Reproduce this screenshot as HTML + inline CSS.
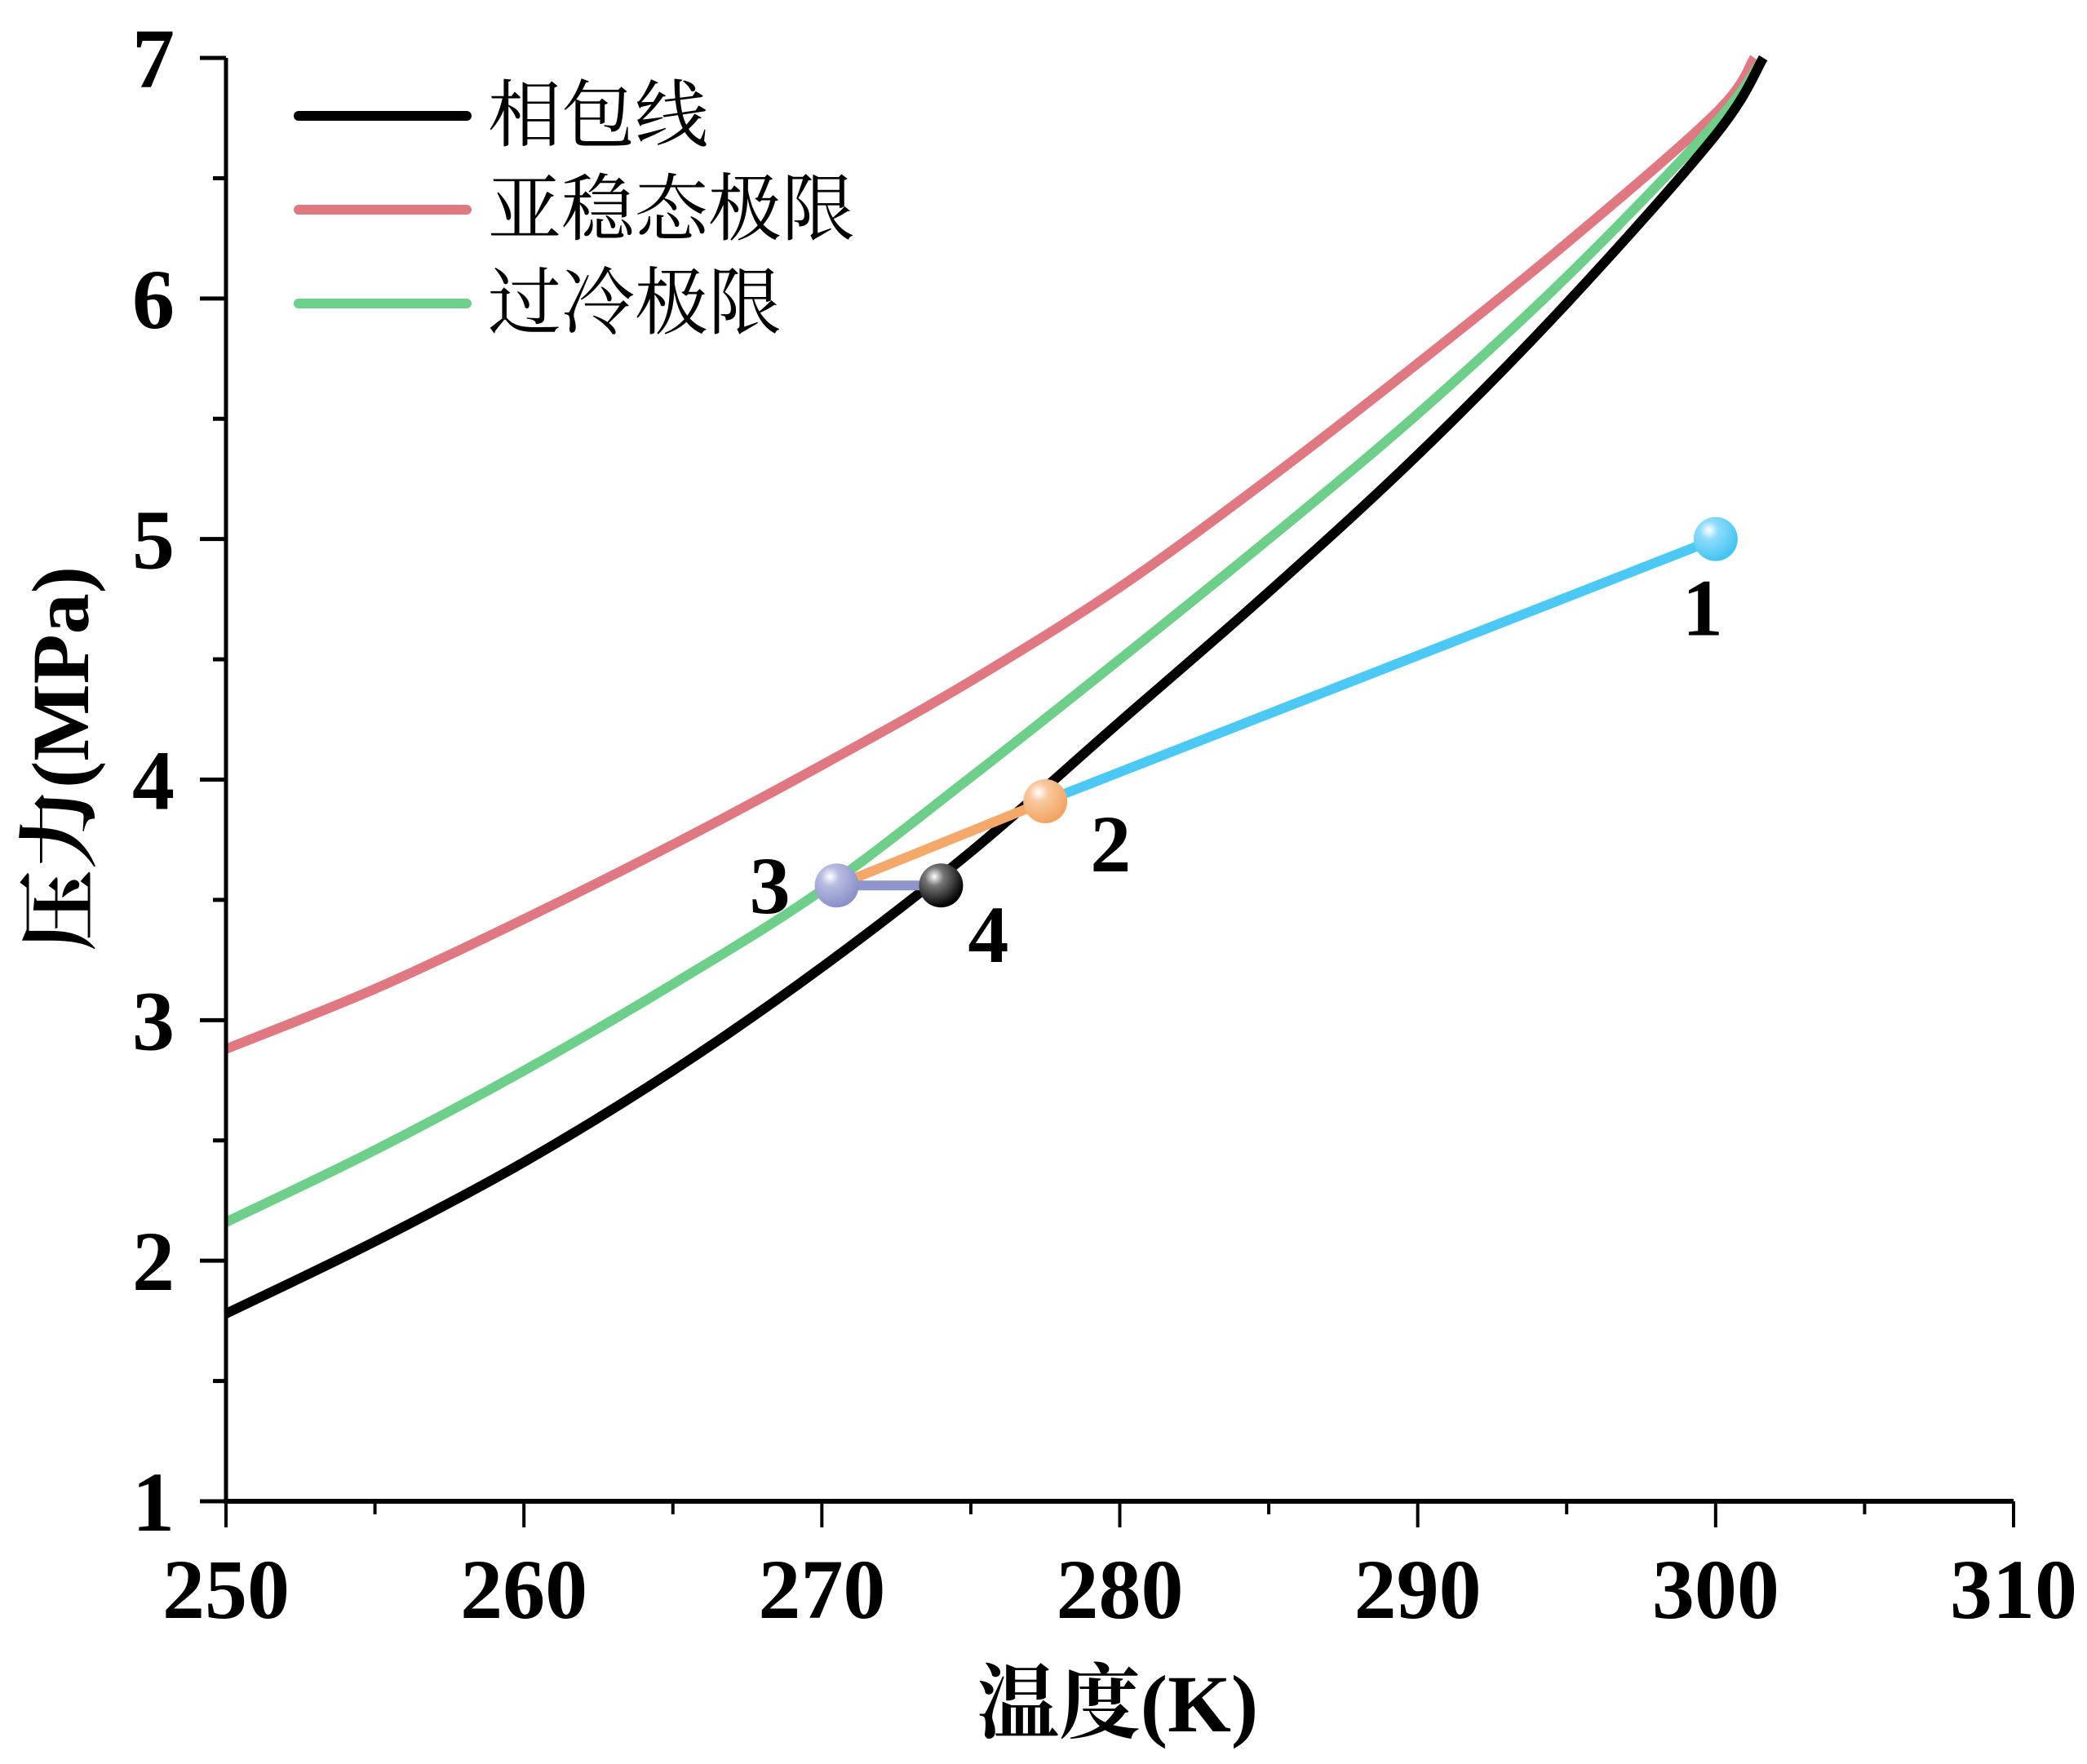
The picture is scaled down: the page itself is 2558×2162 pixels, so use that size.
<!DOCTYPE html>
<html><head><meta charset="utf-8"><style>
html,body{margin:0;padding:0;background:#fff;}
svg{display:block;}
text{font-family:"Liberation Serif","Noto Serif CJK SC",serif;}
</style></head><body>
<svg id="chart" width="2558" height="2162" viewBox="0 0 2558 2162" xmlns="http://www.w3.org/2000/svg">
<defs>
<radialGradient id="gCyan" cx="0.35" cy="0.3" r="0.7"><stop offset="0" stop-color="#ffffff"/><stop offset="0.3" stop-color="#8fdcfa"/><stop offset="1" stop-color="#44c4f2"/></radialGradient>
<radialGradient id="gOrange" cx="0.35" cy="0.3" r="0.7"><stop offset="0" stop-color="#ffffff"/><stop offset="0.3" stop-color="#f8c9a0"/><stop offset="1" stop-color="#f2a462"/></radialGradient>
<radialGradient id="gPurple" cx="0.35" cy="0.3" r="0.7"><stop offset="0" stop-color="#ffffff"/><stop offset="0.3" stop-color="#b8bce0"/><stop offset="1" stop-color="#8a90c8"/></radialGradient>
<radialGradient id="gBlack" cx="0.35" cy="0.3" r="0.7"><stop offset="0" stop-color="#ffffff"/><stop offset="0.3" stop-color="#777"/><stop offset="1" stop-color="#000"/></radialGradient>
</defs>
<g id="plot"></g>
</svg>
<script>
const xTicks=[250,260,270,280,290,300,310];
const yTicks=[1,2,3,4,5,6,7];
const tempsEnvelope=[250,255,260,265,270,275,280,285,290,295,300,301.6];
const presEnvelope=[1.78,2.08,2.41,2.79,3.22,3.70,4.24,4.78,5.35,5.98,6.68,7.0];
const tempsMeta=[250,255,260,265,270,275,280,285,290,295,300,301.3];
const presMeta=[2.88,3.13,3.42,3.73,4.06,4.41,4.80,5.25,5.73,6.23,6.77,7.0];
const tempsCool=[250,255,260,265,270,275,280,285,290,295,300,301.6];
const presCool=[2.16,2.46,2.79,3.15,3.54,4.01,4.50,5.00,5.52,6.09,6.73,7.0];
const pointLabels=["1","2","3","4"];
const pointT=[300.0,277.5,270.5,274.0];
const pointP=[5.0,3.91,3.56,3.56];

const NS="http://www.w3.org/2000/svg";
const X0=277,X1=2468,Y0=1840,Y1=71;
function sx(t){return X0+(t-250)/(310-250)*(X1-X0);}
function sy(p){return Y0-(p-1)/(7-1)*(Y0-Y1);}
const g=document.getElementById('plot');
function mk(tag,attrs,parent){const e=document.createElementNS(NS,tag);for(const k in attrs)e.setAttribute(k,attrs[k]);(parent||g).appendChild(e);return e;}
function smooth(ts,ps){
  const pts=ts.map((t,i)=>[sx(t),sy(ps[i])]);
  let d="M"+pts[0][0]+","+pts[0][1];
  for(let i=0;i<pts.length-1;i++){
    const p0=pts[Math.max(0,i-1)],p1=pts[i],p2=pts[i+1],p3=pts[Math.min(pts.length-1,i+2)];
    const c1=[p1[0]+(p2[0]-p0[0])/6,p1[1]+(p2[1]-p0[1])/6];
    const c2=[p2[0]-(p3[0]-p1[0])/6,p2[1]-(p3[1]-p1[1])/6];
    d+=" C"+c1[0]+","+c1[1]+" "+c2[0]+","+c2[1]+" "+p2[0]+","+p2[1];
  }
  return d;
}
let c;
c=mk('path',{d:smooth(tempsMeta,presMeta),fill:'none',stroke:'#e07882','stroke-width':12});


c=mk('path',{d:smooth(tempsCool,presCool),fill:'none',stroke:'#6dcf8a','stroke-width':12});


c=mk('path',{d:smooth(tempsEnvelope,presEnvelope),fill:'none',stroke:'#000','stroke-width':12});


const segColors=['#4cc8f4','#f4a86a','#8f95cc'];
for(let i=0;i<3;i++){
  const s=mk('line',{x1:sx(pointT[i]),y1:sy(pointP[i]),x2:sx(pointT[i+1]),y2:sy(pointP[i+1]),stroke:segColors[i],'stroke-width':12});
  
  
}
const grads=['url(#gCyan)','url(#gOrange)','url(#gPurple)','url(#gBlack)'];
const lblOff=[[-16,118],[80,86],[-82,34],[58,94]];
for(let i=0;i<4;i++){
  const m=mk('circle',{cx:sx(pointT[i]),cy:sy(pointP[i]),r:27,fill:grads[i]});
  
  
  const t=mk('text',{x:sx(pointT[i])+lblOff[i][0],y:sy(pointP[i])+lblOff[i][1],'font-size':100,'font-weight':'bold','text-anchor':'middle'});
  t.textContent=pointLabels[i];
  
  
}
let a=mk('line',{x1:X0,y1:Y0,x2:X1,y2:Y0,stroke:'#000','stroke-width':6});


a=mk('line',{x1:X0,y1:Y0+3,x2:X0,y2:Y1,stroke:'#000','stroke-width':5});


for(let i=0;i<xTicks.length;i++){
  const x=sx(xTicks[i]);
  const tk=mk('line',{x1:x,y1:Y0,x2:x,y2:Y0+32,stroke:'#000','stroke-width':4});
  
  
  if(i<xTicks.length-1){
    const mx=sx(xTicks[i]+5);
    const mt=mk('line',{x1:mx,y1:Y0,x2:mx,y2:Y0+16,stroke:'#000','stroke-width':4});
    
    
  }
  const lb=mk('text',{x:x,y:1983,'font-size':104,'font-weight':'bold','text-anchor':'middle'});
  lb.textContent=xTicks[i];
  
  
}
for(let i=0;i<yTicks.length;i++){
  const y=sy(yTicks[i]);
  const tk=mk('line',{x1:X0-32,y1:y,x2:X0,y2:y,stroke:'#000','stroke-width':5});
  
  
  if(i<yTicks.length-1){
    const my=sy(yTicks[i]+0.5);
    const mt=mk('line',{x1:X0-16,y1:my,x2:X0,y2:my,stroke:'#000','stroke-width':5});
    
    
  }
  const lb=mk('text',{x:214,y:y+36,'font-size':104,'font-weight':'bold','text-anchor':'end'});
  lb.textContent=yTicks[i];
  
  
}
let tt=mk('text',{x:1370,y:2122,'font-size':100,'font-weight':'bold','text-anchor':'middle'});
tt.textContent='温度(K)';


tt=mk('text',{x:0,y:0,'font-size':100,'font-weight':'bold','text-anchor':'middle',transform:'translate(108,930) rotate(-90)'});
tt.textContent='压力(MPa)';


const legNames=['相包线','亚稳态极限','过冷极限'];
const legColors=['#000','#e07882','#6dcf8a'];
const legKeys=['legend-entry-phase-envelope','legend-entry-metastable-limit','legend-entry-subcooling-limit'];
for(let i=0;i<3;i++){
  const y=142+i*115;
  const grp=mk('g',{});
  
  
  mk('line',{x1:366,y1:y,x2:572,y2:y,stroke:legColors[i],'stroke-width':12,'stroke-linecap':'round'},grp);
  const t=mk('text',{x:598,y:y+30,'font-size':90},grp);
  t.textContent=legNames[i];
}
</script>
</body></html>
